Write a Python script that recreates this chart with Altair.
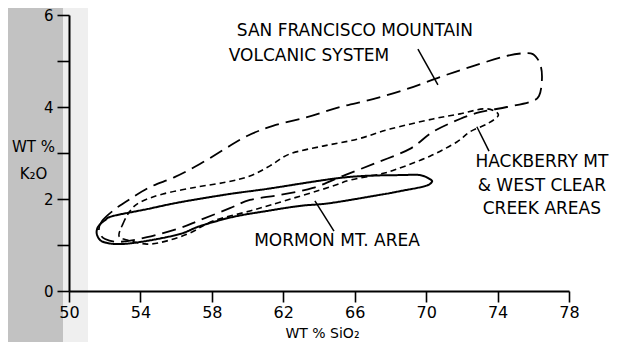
import altair as alt
import pandas as pd

# San Francisco Mountain volcanic system envelope (long dashes)
sf_x = [51.68, 51.85, 52.58, 53.42, 54.54, 55.94, 57.33, 58.73, 59.97, 61.42,
        63.33, 65.17, 67.02, 68.92, 70.77, 72.62, 74.52, 75.70, 76.15, 76.43,
        76.48, 76.32, 75.81, 74.52, 73.57, 72.84, 71.89, 70.38, 69.09, 67.30,
        65.45, 63.66, 61.81, 60.13, 59.01, 57.33, 56.22, 54.37, 52.86, 52.02]
sf_y = [1.30, 1.52, 1.78, 2.00, 2.26, 2.48, 2.76, 3.09, 3.37, 3.59,
        3.78, 4.00, 4.17, 4.39, 4.65, 4.89, 5.11, 5.17, 5.09, 4.87,
        4.57, 4.24, 4.11, 4.00, 3.93, 3.87, 3.74, 3.46, 3.09, 2.80,
        2.52, 2.24, 2.09, 1.98, 1.80, 1.54, 1.37, 1.17, 1.07, 1.13]

# Hackberry Mt & West Clear Creek envelope (short dashes)
hb_x = [52.80, 53.02, 53.42, 53.98, 55.26, 57.17, 58.85, 60.13, 61.25, 62.37,
        64.22, 66.13, 67.97, 70.38, 71.89, 73.18, 73.85, 74.02, 73.40, 72.45,
        71.72, 70.21, 68.36, 67.41, 65.73, 64.61, 61.81, 60.13, 58.06, 56.77,
        55.49, 54.37, 53.25]
hb_y = [1.20, 1.46, 1.74, 1.93, 2.11, 2.26, 2.37, 2.50, 2.72, 2.98,
        3.15, 3.30, 3.52, 3.74, 3.85, 3.96, 3.91, 3.80, 3.63, 3.46,
        3.24, 2.93, 2.65, 2.54, 2.41, 2.26, 1.93, 1.74, 1.52, 1.26,
        1.09, 1.02, 1.11]

# Mormon Mt. area envelope (solid)
mm_x = [51.57, 51.62, 52.02, 52.46, 54.37, 56.22, 59.01, 61.09, 64.61, 66.46,
        68.53, 69.65, 70.21, 70.32, 69.93, 68.53, 67.41, 64.61, 62.93, 61.09,
        59.18, 57.33, 56.22, 54.37, 52.86, 51.90]
mm_y = [1.22, 1.39, 1.54, 1.63, 1.78, 1.93, 2.11, 2.22, 2.43, 2.50,
        2.52, 2.52, 2.43, 2.37, 2.28, 2.17, 2.09, 1.91, 1.85, 1.74,
        1.61, 1.41, 1.24, 1.09, 1.02, 1.07]

# Annotation labels
label_text = ["SAN FRANCISCO MOUNTAIN", "VOLCANIC SYSTEM", "HACKBERRY MT",
              "& WEST CLEAR", "CREEK AREAS", "MORMON MT. AREA"]
label_x = [66.01, 63.44, 76.48, 76.48, 76.48, 65.01]
label_y = [5.65, 5.11, 2.80, 2.28, 1.78, 1.09]

# Leader lines
lead_x = [69.54, 72.84, 63.77]
lead_y = [5.26, 3.57, 1.96]
lead_x2 = [70.66, 73.52, 64.84]
lead_y2 = [4.48, 3.04, 1.30]

x_ticks = list(range(50, 80, 2))
y_ticks = list(range(0, 7, 1))

FONT = "DejaVu Sans"

xs = alt.Scale(domain=[50, 78], nice=False, zero=False)
ys = alt.Scale(domain=[0, 6], nice=False)

x_axis = alt.Axis(values=x_ticks, labelExpr="(datum.value - 50) % 4 == 0 ? datum.label : ''",
                  title="WT %   SiO₂", titleFont=FONT, titleFontSize=14, titleFontWeight="normal",
                  titleX=253, titleY=42, titleBaseline="middle", titleAlign="center",
                  labelFont=FONT, labelFontSize=16, labelColor="black", labelPadding=2,
                  tickSize=11, tickColor="black", tickWidth=1.6,
                  domainColor="black", domainWidth=2, grid=False, zindex=1,
                  labelFlush=False, labelOverlap=False)
y_axis = alt.Axis(values=y_ticks, labelExpr="datum.value % 2 == 1 ? '' : datum.label",
                  title=["WT %", "K₂O"], titleFont=FONT, titleFontSize=15, titleFontWeight="normal",
                  titleAngle=0, titleX=-36, titleY=131, titleAlign="center",
                  titleBaseline="middle", titleLineHeight=27,
                  labelFont=FONT, labelFontSize=15, labelColor="black", labelPadding=4,
                  tickSize=12, tickColor="black", tickWidth=1.6,
                  domainColor="black", domainWidth=2, grid=False, zindex=1,
                  labelFlush=False, labelOverlap=False)


def outline(xv, yv):
    return pd.DataFrame({"x": xv, "y": yv, "i": list(range(len(xv)))})


bg_dark = alt.Chart(pd.DataFrame({"a": [0]})).mark_rect(color="#c2c2c2").encode(
    x=alt.value(-61), x2=alt.value(-6), y=alt.value(-7), y2=alt.value(327))
bg_light = alt.Chart(pd.DataFrame({"a": [0]})).mark_rect(color="#efefef").encode(
    x=alt.value(-6), x2=alt.value(19), y=alt.value(-7), y2=alt.value(327))


def envelope(xv, yv, dash, width):
    return alt.Chart(outline(xv, yv)).mark_line(
        color="black", strokeWidth=width, strokeDash=dash,
        interpolate="cardinal-closed").encode(
        x=alt.X("x:Q", scale=xs, axis=x_axis),
        y=alt.Y("y:Q", scale=ys, axis=y_axis),
        order="i:Q")


sf = envelope(sf_x, sf_y, [14, 7], 1.8)
hb = envelope(hb_x, hb_y, [6, 4], 1.6)
mm = envelope(mm_x, mm_y, [1, 0], 2.0)

leaders = alt.Chart(pd.DataFrame({"x": lead_x, "y": lead_y, "x2": lead_x2, "y2": lead_y2})).mark_rule(
    color="black", strokeWidth=1.5).encode(
    x=alt.X("x:Q", scale=xs), y=alt.Y("y:Q", scale=ys), x2="x2:Q", y2="y2:Q")

labels = alt.Chart(pd.DataFrame({"x": label_x, "y": label_y, "t": label_text})).mark_text(
    font=FONT, fontSize=17, color="black", align="center", baseline="middle").encode(
    x=alt.X("x:Q", scale=xs), y=alt.Y("y:Q", scale=ys), text="t:N")

chart = alt.layer(bg_dark, bg_light, sf, hb, mm, leaders, labels).properties(
    width=500, height=276,
    autosize=alt.AutoSizeParams(type="none"),
    padding={"left": 61, "top": 7, "right": 49, "bottom": 51},
    background="white",
).configure_view(stroke=None)

chart.save("out.html", embed_options={"renderer": "svg", "actions": False})
